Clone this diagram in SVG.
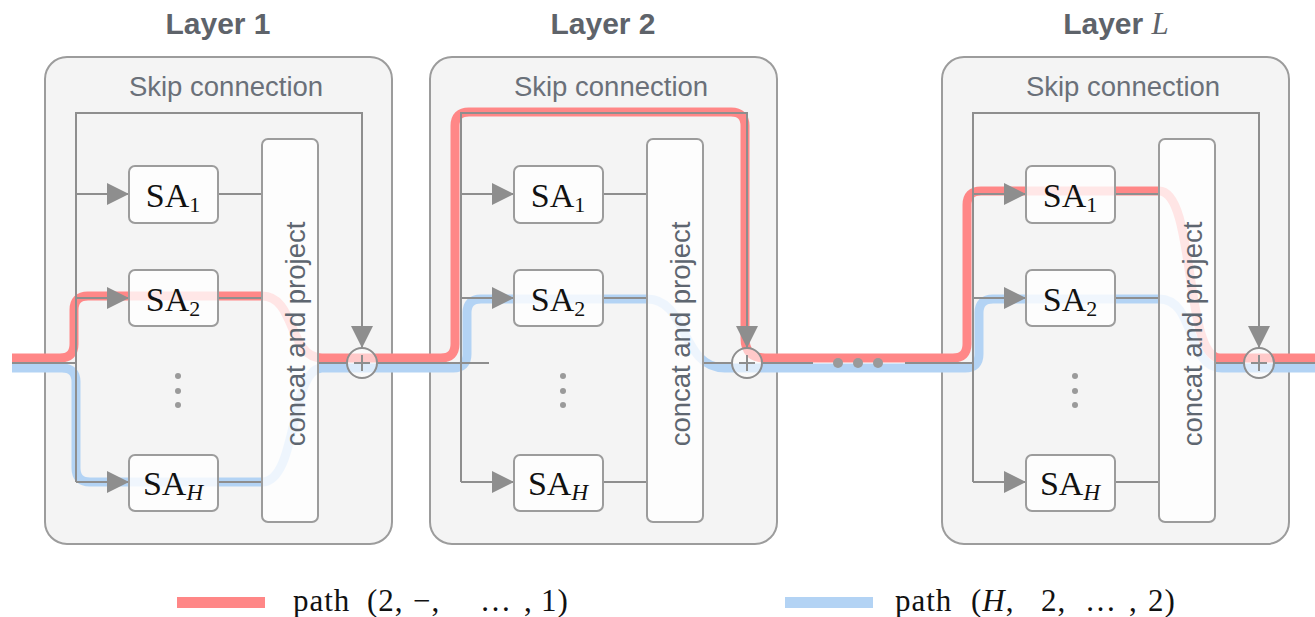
<svg xmlns="http://www.w3.org/2000/svg" width="1315" height="617" viewBox="0 0 1315 617">
  <style>
    .layer { fill: #f4f4f4; stroke: #9c9c9c; stroke-width: 2; }
    .title { font-family: "Liberation Sans", Arial, sans-serif; font-weight: bold; font-size: 30px; fill: #5e636a; text-anchor: middle; }
    .skiplbl { font-family: "Liberation Sans", Arial, sans-serif; font-size: 27.5px; fill: #6a7079; text-anchor: middle; }
    .sa { fill: #ffffff; fill-opacity: 0.8; stroke: #9c9c9c; stroke-width: 2; }
    .satxt { font-family: "Liberation Serif", "Times New Roman", serif; font-size: 34px; fill: #111; text-anchor: middle; }
    .cp { fill: #ffffff; fill-opacity: 0.78; stroke: #9c9c9c; stroke-width: 2; }
    .cptxt { font-family: "Liberation Sans", Arial, sans-serif; font-size: 27.5px; fill: #5e6670; text-anchor: middle; }
    .ln { fill: none; stroke: #8e8e8e; stroke-width: 2; }
    .red { fill: none; stroke: #ff8787; stroke-width: 9; stroke-linejoin: round; }
    .blue { fill: none; stroke: #b3d3f4; stroke-width: 9; stroke-linejoin: round; }
    .add { fill: #ffffff; fill-opacity: 0.55; stroke: #8e8e8e; stroke-width: 2; }
    .dot { fill: #9a9a9a; }
    .leg { font-family: "Liberation Serif", "Times New Roman", serif; font-size: 31px; letter-spacing: 1px; fill: #111; }
  </style>
  <defs>
    <marker id="arr" markerUnits="userSpaceOnUse" markerWidth="22" markerHeight="22" viewBox="0 0 22 22" refX="22" refY="11" orient="auto">
      <path d="M0,0 L22,11 L0,22 Z" fill="#8e8e8e"/>
    </marker>
  </defs>

  <!-- titles -->
  <text class="title" x="218" y="34">Layer 1</text>
  <text class="title" x="603" y="34">Layer 2</text>
  <text class="title" x="1116" y="34">Layer <tspan font-family="'Liberation Serif', 'Times New Roman', serif" font-style="italic" font-weight="normal" font-size="31px">L</tspan></text>

  <!-- layer backgrounds -->
  <g id="layer1">
    <rect class="layer" x="45" y="57" width="347" height="487" rx="22"/>
    <text class="skiplbl" x="226" y="96">Skip connection</text>
  </g>
  <g id="layer2">
    <rect class="layer" x="430" y="57" width="347" height="487" rx="22"/>
    <text class="skiplbl" x="611" y="96">Skip connection</text>
  </g>
  <g id="layerL">
    <rect class="layer" x="942" y="57" width="347" height="487" rx="22"/>
    <text class="skiplbl" x="1123" y="96">Skip connection</text>
  </g>

  <!-- highlighted paths -->
  <g id="paths">
    <path class="blue" d="M12,368 H62 Q76,368 76,382 V468 Q76,482 90,482 H262 C298,482 290,368 322,368 H453 Q467,368 467,354 V313 Q467,299 481,299 H647 C688,299 680,368 725,368 H965 Q979,368 979,354 V313 Q979,299 993,299 H1159 C1196,299 1186,368 1222,368 H1315"/>
    <path class="red" d="M12,358 H60 Q74,358 74,344 V310 Q74,296 88,296 H262 C296,296 288,358 322,358 H441 Q455,358 455,344 V126 Q455,112 469,112 H731 Q745,112 745,126 V338 Q745,358 765,358 H953 Q967,358 967,344 V205 Q967,191 981,191 H1159 C1196,191 1184,358 1220,358 H1315"/>
  </g>

  <!-- connectors -->
  <g id="connectors">
    <!-- layer 1 -->
    <path class="ln" d="M76,482 V113 H362 V348" marker-end="url(#arr)"/>
    <path class="ln" d="M76,194 H129" marker-end="url(#arr)"/>
    <path class="ln" d="M76,298 H129" marker-end="url(#arr)"/>
    <path class="ln" d="M76,482 H129" marker-end="url(#arr)"/>
    <path class="ln" d="M218,194 H262 M218,298 H262 M218,482 H262"/>
    <!-- layer 2 -->
    <path class="ln" d="M461,482 V113 H747 V348" marker-end="url(#arr)"/>
    <path class="ln" d="M461,194 H514" marker-end="url(#arr)"/>
    <path class="ln" d="M461,298 H514" marker-end="url(#arr)"/>
    <path class="ln" d="M461,482 H514" marker-end="url(#arr)"/>
    <path class="ln" d="M603,194 H647 M603,298 H647 M603,482 H647"/>
    <!-- layer L -->
    <path class="ln" d="M973,482 V113 H1259 V348" marker-end="url(#arr)"/>
    <path class="ln" d="M973,194 H1026" marker-end="url(#arr)"/>
    <path class="ln" d="M973,298 H1026" marker-end="url(#arr)"/>
    <path class="ln" d="M973,482 H1026" marker-end="url(#arr)"/>
    <path class="ln" d="M1115,194 H1159 M1115,298 H1159 M1115,482 H1159"/>
    <!-- main residual stream -->
    <path class="ln" d="M12,363 H76 M318,363 H347 M377,363 H489 M703,363 H732 M762,363 H813 M905,363 H973 M1215,363 H1244 M1274,363 H1315"/>
    <circle class="dot" cx="838" cy="363" r="5"/>
    <circle class="dot" cx="858" cy="363" r="5"/>
    <circle class="dot" cx="878" cy="363" r="5"/>
  </g>

  <!-- layer 1 nodes -->
  <g id="l1-sa1"><rect class="sa" x="129" y="166" width="89" height="57" rx="6"/><text class="satxt" x="173" y="207">SA<tspan font-size="22px" dy="5">1</tspan></text></g>
  <g id="l1-sa2"><rect class="sa" x="129" y="270" width="89" height="56" rx="6"/><text class="satxt" x="173" y="311">SA<tspan font-size="22px" dy="5">2</tspan></text></g>
  <g id="l1-dots"><circle class="dot" cx="178" cy="376" r="3"/><circle class="dot" cx="178" cy="391" r="3"/><circle class="dot" cx="178" cy="405" r="3"/></g>
  <g id="l1-saH"><rect class="sa" x="129" y="455" width="89" height="56" rx="6"/><text class="satxt" x="173" y="495">SA<tspan font-size="23px" font-style="italic" dy="5">H</tspan></text></g>
  <g id="l1-cp"><rect class="cp" x="262" y="139" width="56" height="383" rx="6"/><text class="cptxt" transform="translate(305,334) rotate(-90)" x="0" y="0">concat and project</text></g>
  <g id="l1-add"><circle class="add" cx="362" cy="363" r="15"/><path class="ln" d="M354,363 H370 M362,355 V371"/></g>

  <!-- layer 2 nodes -->
  <g id="l2-sa1"><rect class="sa" x="514" y="166" width="89" height="57" rx="6"/><text class="satxt" x="558" y="207">SA<tspan font-size="22px" dy="5">1</tspan></text></g>
  <g id="l2-sa2"><rect class="sa" x="514" y="270" width="89" height="56" rx="6"/><text class="satxt" x="558" y="311">SA<tspan font-size="22px" dy="5">2</tspan></text></g>
  <g id="l2-dots"><circle class="dot" cx="563" cy="376" r="3"/><circle class="dot" cx="563" cy="391" r="3"/><circle class="dot" cx="563" cy="405" r="3"/></g>
  <g id="l2-saH"><rect class="sa" x="514" y="455" width="89" height="56" rx="6"/><text class="satxt" x="558" y="495">SA<tspan font-size="23px" font-style="italic" dy="5">H</tspan></text></g>
  <g id="l2-cp"><rect class="cp" x="647" y="139" width="56" height="383" rx="6"/><text class="cptxt" transform="translate(690,334) rotate(-90)" x="0" y="0">concat and project</text></g>
  <g id="l2-add"><circle class="add" cx="747" cy="363" r="15"/><path class="ln" d="M739,363 H755 M747,355 V371"/></g>

  <!-- layer L nodes -->
  <g id="lL-sa1"><rect class="sa" x="1026" y="166" width="89" height="57" rx="6"/><text class="satxt" x="1070" y="207">SA<tspan font-size="22px" dy="5">1</tspan></text></g>
  <g id="lL-sa2"><rect class="sa" x="1026" y="270" width="89" height="56" rx="6"/><text class="satxt" x="1070" y="311">SA<tspan font-size="22px" dy="5">2</tspan></text></g>
  <g id="lL-dots"><circle class="dot" cx="1075" cy="376" r="3"/><circle class="dot" cx="1075" cy="391" r="3"/><circle class="dot" cx="1075" cy="405" r="3"/></g>
  <g id="lL-saH"><rect class="sa" x="1026" y="455" width="89" height="56" rx="6"/><text class="satxt" x="1070" y="495">SA<tspan font-size="23px" font-style="italic" dy="5">H</tspan></text></g>
  <g id="lL-cp"><rect class="cp" x="1159" y="139" width="56" height="383" rx="6"/><text class="cptxt" transform="translate(1202,334) rotate(-90)" x="0" y="0">concat and project</text></g>
  <g id="lL-add"><circle class="add" cx="1259" cy="363" r="15"/><path class="ln" d="M1251,363 H1267 M1259,355 V371"/></g>

  <!-- legend -->
  <g id="legend-red">
    <rect x="177" y="597" width="88" height="11" fill="#ff8787"/>
    <text class="leg" y="611"><tspan x="293">path</tspan><tspan x="367">(2,</tspan><tspan x="413">−,</tspan><tspan x="480">…</tspan><tspan x="524">,</tspan><tspan x="541">1)</tspan></text>
  </g>
  <g id="legend-blue">
    <rect x="785" y="597" width="88" height="11" fill="#b3d3f4"/>
    <text class="leg" y="611"><tspan x="895">path</tspan><tspan x="971">(</tspan><tspan font-style="italic">H</tspan><tspan>,</tspan><tspan x="1041">2,</tspan><tspan x="1085">…</tspan><tspan x="1129">,</tspan><tspan x="1148">2)</tspan></text>
  </g>
</svg>
